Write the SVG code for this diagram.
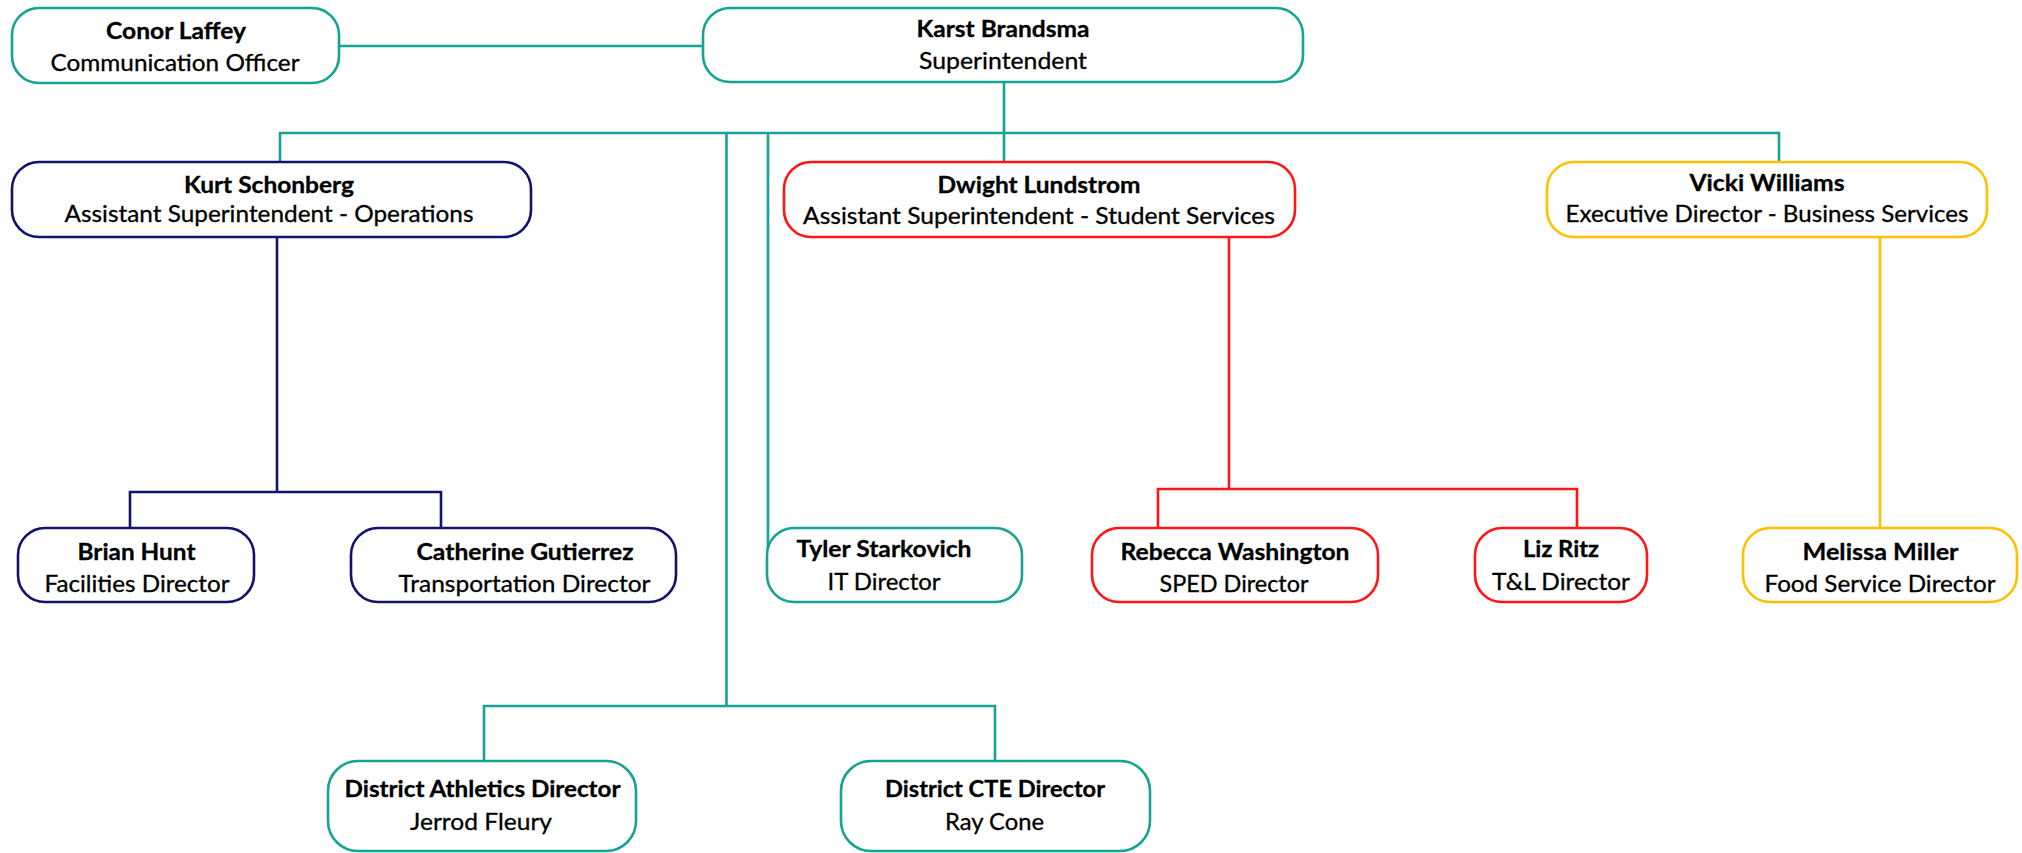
<svg xmlns="http://www.w3.org/2000/svg" width="2022" height="853" viewBox="0 0 2022 853">
<style>
.box{fill:#fff;stroke-width:2.6}
.teal{stroke:#16a396}
.navy{stroke:#12126e}
.red{stroke:#ff1515}
.yel{stroke:#ffc000}
.ln{fill:none;stroke-width:2.6}
text{font-family:Lato,"Noto Sans","Liberation Sans",sans-serif;font-size:22.5px;fill:#000;stroke:#000;stroke-width:0.3;text-anchor:middle}
.b{font-weight:bold}
</style>
<rect width="2022" height="853" fill="#fff"/>
<g id="connectors">
<path class="ln teal" d="M339,46H703M1004,82V162M280,162V133H1779V162M726.5,133V706M484,761V706H995V761M768,133V565"/>
<path class="ln navy" d="M277,237V492M130,528V492H441V528"/>
<path class="ln red" d="M1229,237V489M1158,528V489H1577V528"/>
<path class="ln yel" d="M1880,237V528"/>
</g>
<g id="conor">
<rect class="box teal" x="12" y="8" width="327" height="75" rx="27"/>
<text class="b" x="176" y="39" textLength="140" lengthAdjust="spacingAndGlyphs">Conor Laffey</text>
<text x="175" y="70.5" textLength="249" lengthAdjust="spacingAndGlyphs">Communication Officer</text>
</g>
<g id="karst">
<rect class="box teal" x="703" y="8" width="600" height="74" rx="27"/>
<text class="b" x="1003" y="36.5" textLength="173" lengthAdjust="spacingAndGlyphs">Karst Brandsma</text>
<text x="1003" y="68.5" textLength="168" lengthAdjust="spacingAndGlyphs">Superintendent</text>
</g>
<g id="kurt">
<rect class="box navy" x="12" y="162" width="519" height="75" rx="27"/>
<text class="b" x="269" y="193" textLength="170" lengthAdjust="spacingAndGlyphs">Kurt Schonberg</text>
<text x="269" y="222" textLength="409" lengthAdjust="spacingAndGlyphs">Assistant Superintendent - Operations</text>
</g>
<g id="dwight">
<rect class="box red" x="784" y="162" width="511" height="75" rx="27"/>
<text class="b" x="1039" y="193" textLength="203" lengthAdjust="spacingAndGlyphs">Dwight Lundstrom</text>
<text x="1039" y="223.5" textLength="472" lengthAdjust="spacingAndGlyphs">Assistant Superintendent - Student Services</text>
</g>
<g id="vicki">
<rect class="box yel" x="1547" y="162" width="440" height="75" rx="27"/>
<text class="b" x="1767" y="191" textLength="155" lengthAdjust="spacingAndGlyphs">Vicki Williams</text>
<text x="1767" y="222" textLength="403" lengthAdjust="spacingAndGlyphs">Executive Director - Business Services</text>
</g>
<g id="brian">
<rect class="box navy" x="18" y="528" width="236" height="74" rx="27"/>
<text class="b" x="136.5" y="560" textLength="118" lengthAdjust="spacingAndGlyphs">Brian Hunt</text>
<text x="137" y="592" textLength="185" lengthAdjust="spacingAndGlyphs">Facilities Director</text>
</g>
<g id="catherine">
<rect class="box navy" x="351" y="528" width="325" height="74" rx="27"/>
<text class="b" x="525" y="560" textLength="217" lengthAdjust="spacingAndGlyphs">Catherine Gutierrez</text>
<text x="524.5" y="592" textLength="252" lengthAdjust="spacingAndGlyphs">Transportation Director</text>
</g>
<g id="tyler">
<rect class="box teal" x="767" y="528" width="255" height="74" rx="27"/>
<text class="b" x="884" y="557" textLength="175" lengthAdjust="spacingAndGlyphs">Tyler Starkovich</text>
<text x="884" y="590" textLength="113" lengthAdjust="spacingAndGlyphs">IT Director</text>
</g>
<g id="rebecca">
<rect class="box red" x="1092" y="528" width="286" height="74" rx="27"/>
<text class="b" x="1235" y="560" textLength="229" lengthAdjust="spacingAndGlyphs">Rebecca Washington</text>
<text x="1234" y="592" textLength="149" lengthAdjust="spacingAndGlyphs">SPED Director</text>
</g>
<g id="liz">
<rect class="box red" x="1475" y="528" width="172" height="74" rx="27"/>
<text class="b" x="1561" y="557" textLength="76" lengthAdjust="spacingAndGlyphs">Liz Ritz</text>
<text x="1561" y="590" textLength="138" lengthAdjust="spacingAndGlyphs">T&amp;L Director</text>
</g>
<g id="melissa">
<rect class="box yel" x="1743" y="528" width="274" height="74" rx="27"/>
<text class="b" x="1880.5" y="560" textLength="156" lengthAdjust="spacingAndGlyphs">Melissa Miller</text>
<text x="1880" y="592" textLength="231" lengthAdjust="spacingAndGlyphs">Food Service Director</text>
</g>
<g id="athletics">
<rect class="box teal" x="328" y="761" width="308" height="90" rx="30"/>
<text class="b" x="482.5" y="797" textLength="276" lengthAdjust="spacingAndGlyphs">District Athletics Director</text>
<text x="481" y="830" textLength="142" lengthAdjust="spacingAndGlyphs">Jerrod Fleury</text>
</g>
<g id="cte">
<rect class="box teal" x="841" y="761" width="309" height="90" rx="30"/>
<text class="b" x="995" y="797" textLength="220" lengthAdjust="spacingAndGlyphs">District CTE Director</text>
<text x="994.5" y="830" textLength="99" lengthAdjust="spacingAndGlyphs">Ray Cone</text>
</g>
</svg>
